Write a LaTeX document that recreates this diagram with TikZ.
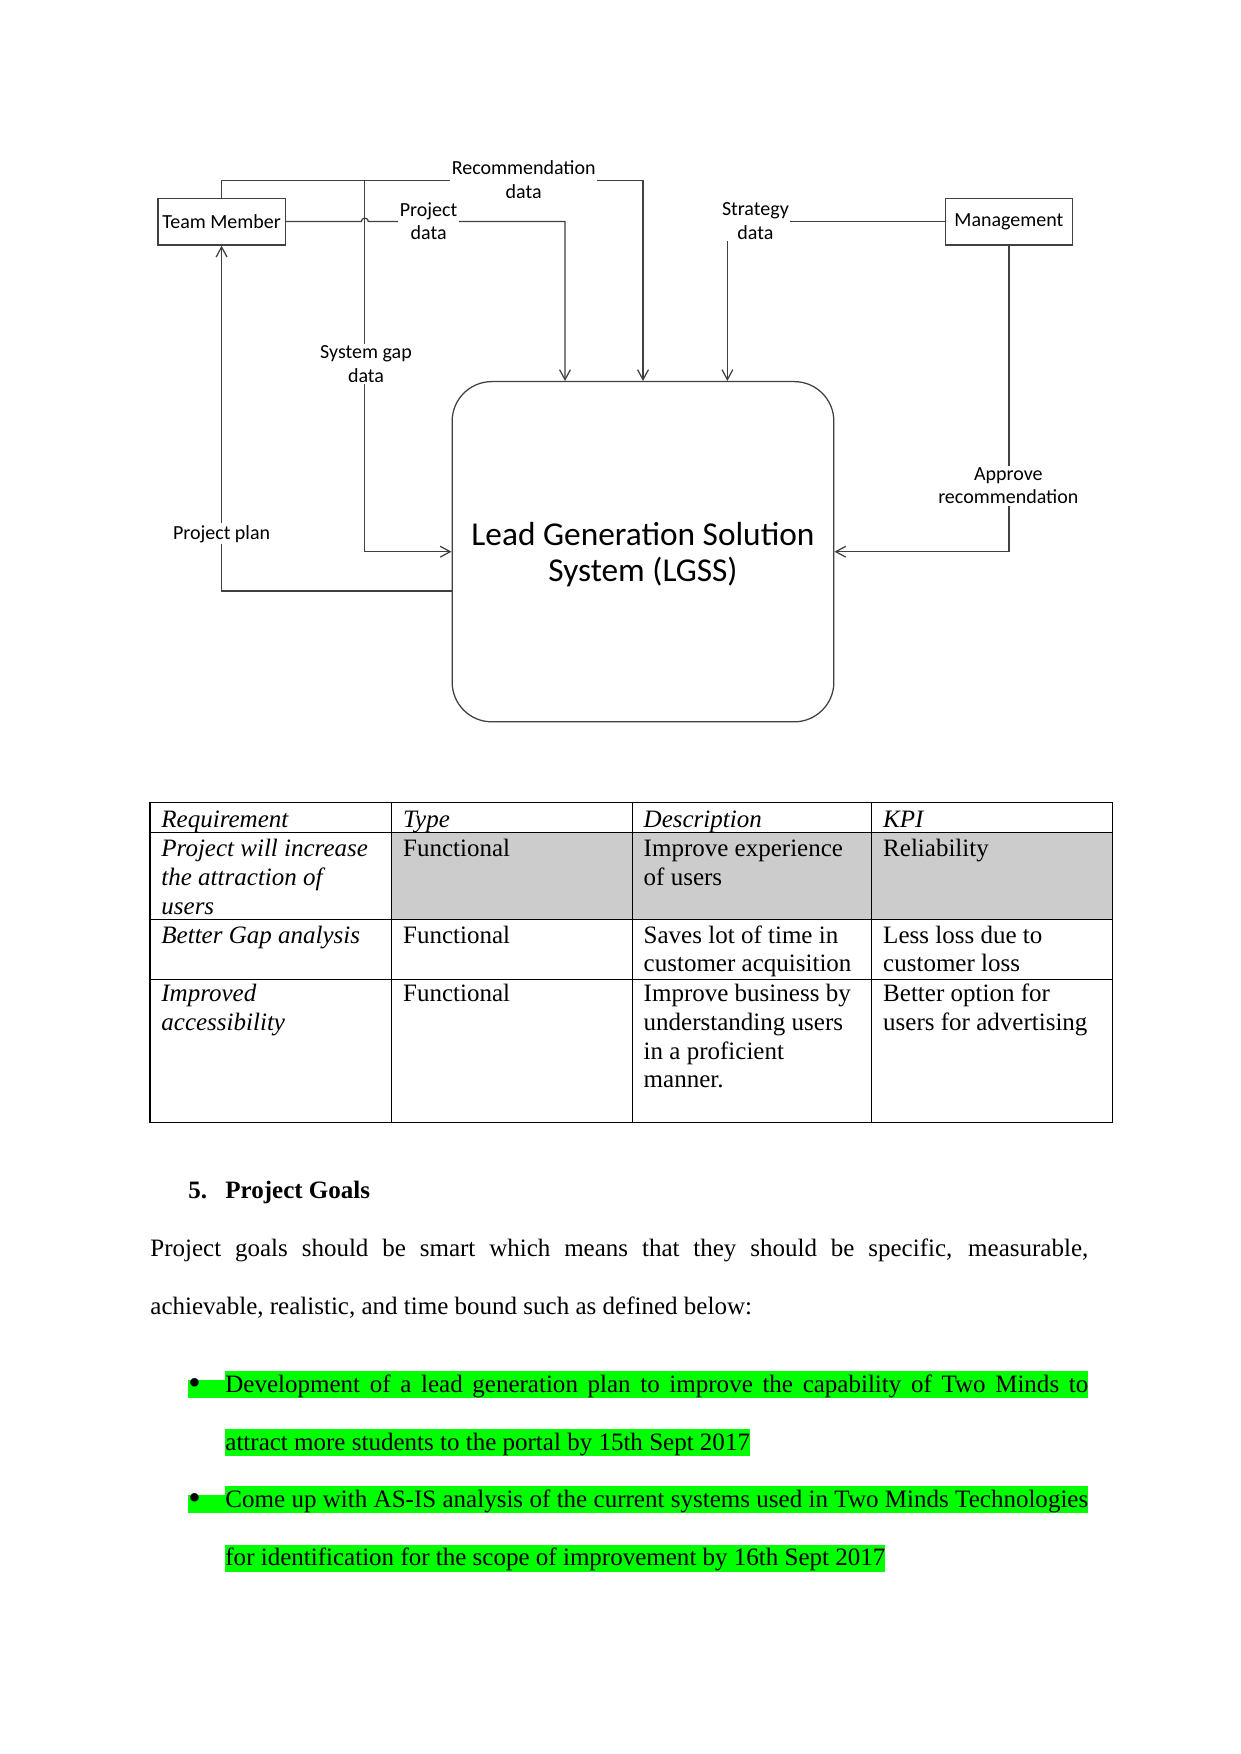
\documentclass[tikz,border=0pt]{standalone}
\usepackage{fontspec}
\setmainfont{Liberation Serif}
\newfontfamily\calibri{Carlito}
\usepackage{tikz}
\usetikzlibrary{arrows.meta,calc}
\definecolor{linegray}{RGB}{64,64,64}
\definecolor{cellgray}{RGB}{204,204,204}
\definecolor{hlgreen}{RGB}{0,255,0}
\newcommand{\celltext}[1]{\begin{tabular}[t]{@{}l@{}}#1\end{tabular}}
\tikzset{%
    cell/.style={anchor=base west,inner sep=0pt,
        font=\fontsize{12}{13.8}\selectfont},
    head cell/.style={cell,font=\fontsize{12}{13.8}\selectfont\itshape},
    body text/.style={anchor=base west,inner sep=0pt,
        font=\fontsize{12}{13.8}\selectfont},
    marked/.style={body text,fill=hlgreen,text height=10pt,text depth=3pt}
}

\begin{document}
\begin{tikzpicture}[x=0.4797pt,y=-0.4797pt,
  >={Straight Barb[length=4.8pt,width=5.2pt]},
  flow/.style={->,draw=linegray,line width=0.6pt},
  ext node/.style={draw=linegray,line width=0.6pt,minimum width=61pt,
    minimum height=22.5pt,inner sep=1pt,font=\calibri\fontsize{9.6}{11.3}\selectfont},
  sys node/.style={draw=linegray,line width=0.6pt,rounded corners=19pt,
    minimum width=183.1pt,minimum height=163.2pt,text height=23.5pt,text depth=10.7pt,
    font=\calibri\fontsize{16}{17.4}\selectfont},
  flow label/.style={fill=white,inner sep=0.8pt,align=center,
    font=\calibri\fontsize{9.6}{11.3}\selectfont}]

  \fill[white] (0,0) rectangle (1241,1754);
  \useasboundingbox (0,0) rectangle (1241,1754);

  \node[ext node] (tm) at (221.6,221.6) {Team Member};
  \node[ext node] (mgmt) at (1008.9,221.6) {Management};
  \node[sys node] (lgss) at (643,551.7) {\begin{tabular}{@{}c@{}}Lead Generation Solution\\System (LGSS)\end{tabular}};
  \coordinate (gap) at (364.8,180.2);

  \draw[flow] (tm.north) |- (gap) -| (lgss.north);
  \draw[flow] (gap) |- (lgss.west);
  \draw[flow] (tm.east) -- (361.3,221.6) arc[start angle=180,end angle=0,radius=1.7pt]
    -| ($(lgss.north)+(-78,0)$);
  \draw[flow] (mgmt.west) -| ($(lgss.north)+(84.4,0)$);
  \draw[flow] (mgmt.south) |- (lgss.east);
  \draw[flow] ($(lgss.west)+(0,39.2)$) -| (tm.south);

  \node[flow label] (reclbl) at (523.7,179.6) {Recommendation\\data};
  \node[flow label] (prjlbl) at (428.6,221) {Project\\data};
  \node[flow label] (strlbl) at (755.4,221) {Strategy\\data};
  \node[flow label] (gaplbl) at (366,364) {System gap\\data};
  \node[flow label] (applbl) at (1008.3,485.7) {Approve\\recommendation};
  \node[flow label] (planlbl) at (221.6,533.8) {Project plan};

  \fill[cellgray] (391.7,832.6) rectangle (1112.4,919.9);
  \draw[line width=0.5pt] (150,802.4) rectangle (1112.4,1122.5);
  \draw[line width=0.5pt] (391.7,802.4) -- (391.7,1122.5);
  \draw[line width=0.5pt] (632.3,802.4) -- (632.3,1122.5);
  \draw[line width=0.5pt] (871.8,802.4) -- (871.8,1122.5);
  \draw[line width=0.5pt] (150,832.6) -- (1112.4,832.6);
  \draw[line width=0.5pt] (150,919.9) -- (1112.4,919.9);
  \draw[line width=0.5pt] (150,979.2) -- (1112.4,979.2);

  \node[head cell] (h1) at (161,827) {Requirement};
  \node[head cell] (h2) at (402.7,827) {Type};
  \node[head cell] (h3) at (643.3,827) {Description};
  \node[head cell] (h4) at (882.8,827) {KPI};
  \node[head cell] (r1c1) at (161,856.7) {\celltext{Project will increase\\the attraction of\\users}};
  \node[cell] (r1c2) at (402.7,856.7) {Functional};
  \node[cell] (r1c3) at (643.3,856.7) {\celltext{Improve experience\\of users}};
  \node[cell] (r1c4) at (882.8,856.7) {Reliability};
  \node[head cell] (r2c1) at (161,943.2) {Better Gap analysis};
  \node[cell] (r2c2) at (402.7,943.2) {Functional};
  \node[cell] (r2c3) at (643.3,943.2) {\celltext{Saves lot of time in\\customer acquisition}};
  \node[cell] (r2c4) at (882.8,943.2) {\celltext{Less loss due to\\customer loss}};
  \node[head cell] (r3c1) at (161,1001.6) {\celltext{Improved\\accessibility}};
  \node[cell] (r3c2) at (402.7,1001.6) {Functional};
  \node[cell] (r3c3) at (643.3,1001.6) {\celltext{Improve business by\\understanding users\\in a proficient\\manner.}};
  \node[cell] (r3c4) at (882.8,1001.6) {\celltext{Better option for\\users for advertising}};

  \node[body text,font=\fontsize{12}{13.8}\selectfont\bfseries] (secnum) at (188,1198.2) {5.};
  \node[body text,font=\fontsize{12}{13.8}\selectfont\bfseries] (sectitle) at (225,1198.2) {Project Goals};
  \node[body text] (par1) at (150,1256.7)
    {\makebox[449.9pt][s]{Project goals should be smart which means that they should be specific, measurable,}};
  \node[body text] (par2) at (150,1314.9) {achievable, realistic, and time bound such as defined below:};

  \node[marked,text height=5.8pt] (bul1) at (188,1392) {\makebox[17.75pt][l]{\raisebox{-1pt}{\fontsize{17}{17}\selectfont\textbullet}}};
  \node[marked] (goal1a) at (225,1392)
    {\makebox[413.9pt][s]{Development of a lead generation plan to improve the capability of Two Minds to}};
  \node[marked] (goal1b) at (225,1450) {attract more students to the portal by 15th Sept 2017};
  \node[marked,text height=5.8pt] (bul2) at (188,1507) {\makebox[17.75pt][l]{\raisebox{-1pt}{\fontsize{17}{17}\selectfont\textbullet}}};
  \node[marked] (goal2a) at (225,1507)
    {\makebox[413.9pt][s]{Come up with AS-IS analysis of the current systems used in Two Minds Technologies}};
  \node[marked] (goal2b) at (225,1565.5) {for identification for the scope of improvement by 16th Sept 2017};
\end{tikzpicture}
\end{document}
